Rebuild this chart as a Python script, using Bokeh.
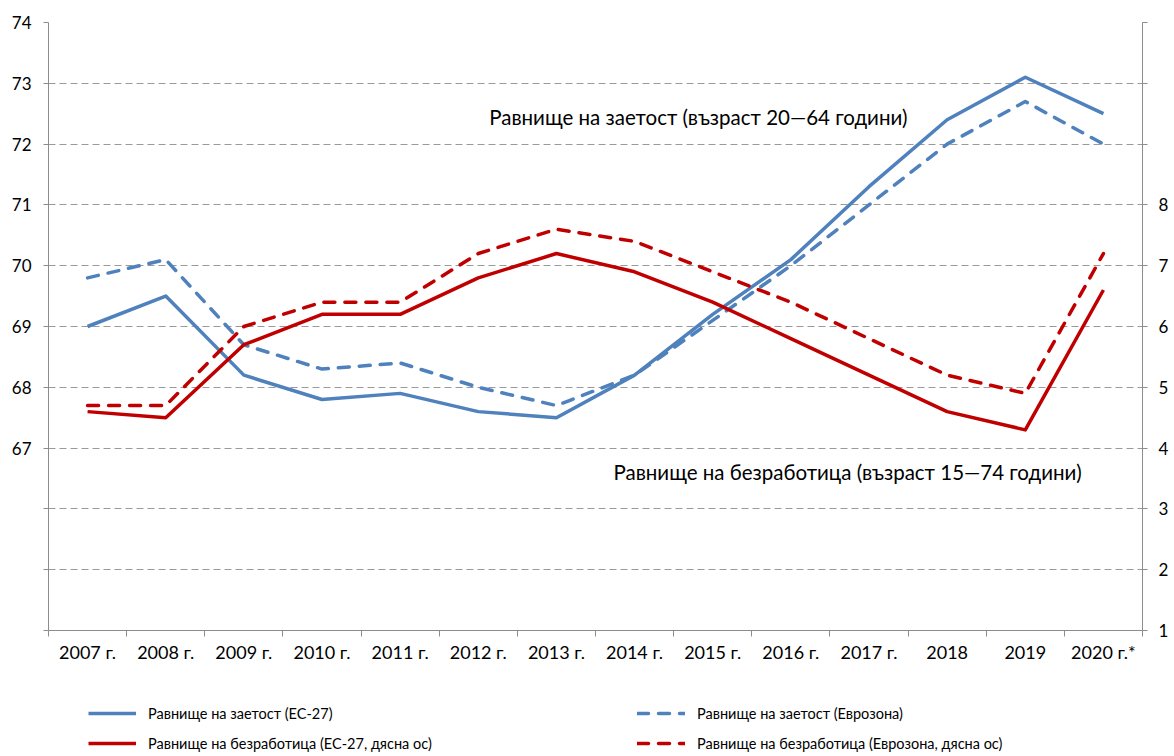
from bokeh.plotting import figure
from bokeh.layouts import column
from bokeh.models import Range1d, LinearAxis, FixedTicker, Legend, Label
from bokeh.embed import file_html
from bokeh.resources import INLINE

# ---------------- data ----------------
categories = ["2007 г.", "2008 г.", "2009 г.", "2010 г.", "2011 г.", "2012 г.", "2013 г.",
              "2014 г.", "2015 г.", "2016 г.", "2017 г.", "2018", "2019", "2020 г.*"]
emp_eu27 = [69.0, 69.5, 68.2, 67.8, 67.9, 67.6, 67.5, 68.2, 69.2, 70.1, 71.3, 72.4, 73.1, 72.5]
emp_ez = [69.8, 70.1, 68.7, 68.3, 68.4, 68.0, 67.7, 68.2, 69.1, 70.0, 71.0, 72.0, 72.7, 72.0]
unemp_eu27 = [4.6, 4.5, 5.7, 6.2, 6.2, 6.8, 7.2, 6.9, 6.4, 5.8, 5.2, 4.6, 4.3, 6.6]
unemp_ez = [4.7, 4.7, 6.0, 6.4, 6.4, 7.2, 7.6, 7.4, 6.9, 6.4, 5.8, 5.2, 4.9, 7.2]
left_ticks = list(range(64, 75))
left_labelled = list(range(67, 75))
right_ticks = list(range(1, 12))
right_labelled = list(range(1, 9))
series_names = ["Равнище на заетост (ЕС-27)",
                "Равнище на заетост (Еврозона)",
                "Равнище на безработица (ЕС-27, дясна ос)",
                "Равнище на безработица (Еврозона, дясна ос)"]
note_emp = "Равнище на заетост (възраст 20—64 години)"
note_unemp = "Равнище на безработица (възраст 15—74 години)"

x = list(range(len(categories)))
series = [emp_eu27, emp_ez, unemp_eu27, unemp_ez]

FONT = "Lato"
GRAY = "#8c8c8c"
BLUE = "#4f81bd"
RED = "#c00000"
W = 1172

p = figure(width=W, height=680, output_backend="svg", toolbar_location=None,
           x_range=Range1d(-0.5, len(categories) - 0.5), y_range=Range1d(64, 74),
           min_border_left=48, min_border_right=30, min_border_top=22, min_border_bottom=50)
p.outline_line_color = None
p.background_fill_color = "white"
p.border_fill_color = "white"

# grid
p.xgrid.visible = False
p.ygrid.ticker = FixedTicker(ticks=left_ticks[1:])
p.ygrid.grid_line_color = "#9a9a9a"
p.ygrid.grid_line_dash = "7 4"
p.ygrid.grid_line_width = 1

# left axis
ya = p.yaxis[0]
ya.ticker = FixedTicker(ticks=left_ticks)
ya.major_label_overrides = {t: (str(t) if t in left_labelled else "") for t in left_ticks}
ya.axis_line_color = GRAY
ya.major_tick_line_color = GRAY
ya.major_tick_in = 0
ya.major_tick_out = 5
ya.minor_tick_line_color = None
ya.major_label_standoff = 12
ya.major_label_text_font = FONT
ya.major_label_text_font_size = "17px"
ya.major_label_text_color = "#000000"

# right axis
p.extra_y_ranges = {"r": Range1d(1, 11)}
ra = LinearAxis(y_range_name="r", ticker=FixedTicker(ticks=right_ticks))
ra.major_label_overrides = {t: (str(t) if t in right_labelled else "") for t in right_ticks}
ra.axis_line_color = GRAY
ra.major_tick_line_color = GRAY
ra.major_tick_in = 0
ra.major_tick_out = 5
ra.minor_tick_line_color = None
ra.major_label_standoff = 11
ra.major_label_text_font = FONT
ra.major_label_text_font_size = "17px"
ra.major_label_text_color = "#000000"
p.add_layout(ra, "right")

# bottom axis
xa = p.xaxis[0]
xa.ticker = FixedTicker(ticks=x, minor_ticks=[i - 0.5 for i in range(len(categories) + 1)])
xa.major_label_overrides = {i: c for i, c in zip(x, categories)}
xa.axis_line_color = GRAY
xa.major_tick_line_color = None
xa.minor_tick_line_color = GRAY
xa.minor_tick_in = 0
xa.minor_tick_out = 6
xa.major_label_standoff = 4
xa.major_label_text_font = FONT
xa.major_label_text_font_size = "18px"
xa.major_label_text_color = "#000000"

# lines
styles = [dict(line_color=BLUE), dict(line_color=BLUE, line_dash="11 10", line_cap="round"),
          dict(line_color=RED), dict(line_color=RED, line_dash="11 10", line_cap="round")]
ranges = ["default", "default", "r", "r"]
for ys, st, rn in zip(series, styles, ranges):
    p.line(x, ys, line_width=3.5, line_join="round", y_range_name=rn, **st)

# annotations
p.add_layout(Label(x=5.14, y=72.45, text=note_emp, text_font=FONT, text_font_size="20.5px",
                   text_baseline="middle", text_color="#000000"))
p.add_layout(Label(x=6.73, y=3.6, y_range_name="r", text=note_unemp, text_font=FONT,
                   text_font_size="20.5px", text_baseline="middle", text_color="#000000"))

# ---------------- legend strip (frame is aligned with the chart's frame) ----------------
lf = figure(width=W, height=74, output_backend="svg", toolbar_location=None,
            x_range=Range1d(-0.5, len(categories) - 0.5), y_range=Range1d(0, 1),
            x_axis_location=None, y_axis_location=None,
            min_border_left=0, min_border_right=0, min_border_top=0, min_border_bottom=0)
lf.outline_line_color = None
lf.xgrid.visible = False
lf.ygrid.visible = False
lf.background_fill_color = "white"
lf.border_fill_color = "white"
# same series drawn outside this strip's visible range: only the legend swatches show
swatches = [lf.line(x, ys, line_width=3.5, **st) for ys, st in zip(series, styles)]


def make_legend(items, loc):
    return Legend(items=items, location=loc, orientation="vertical",
                  glyph_width=48, glyph_height=20, label_standoff=12, spacing=10,
                  padding=0, margin=0, border_line_color=None, background_fill_alpha=0,
                  label_text_font=FONT, label_text_font_size="14.5px", label_height=20,
                  label_text_color="#000000")


lf.add_layout(make_legend([(series_names[0], [swatches[0]]), (series_names[2], [swatches[2]])],
                          (40, 1)))
lf.add_layout(make_legend([(series_names[1], [swatches[1]]), (series_names[3], [swatches[3]])],
                          (589, 1)))

layout = column(p, lf, spacing=0)
open("out.html", "w").write(file_html(layout, INLINE))
